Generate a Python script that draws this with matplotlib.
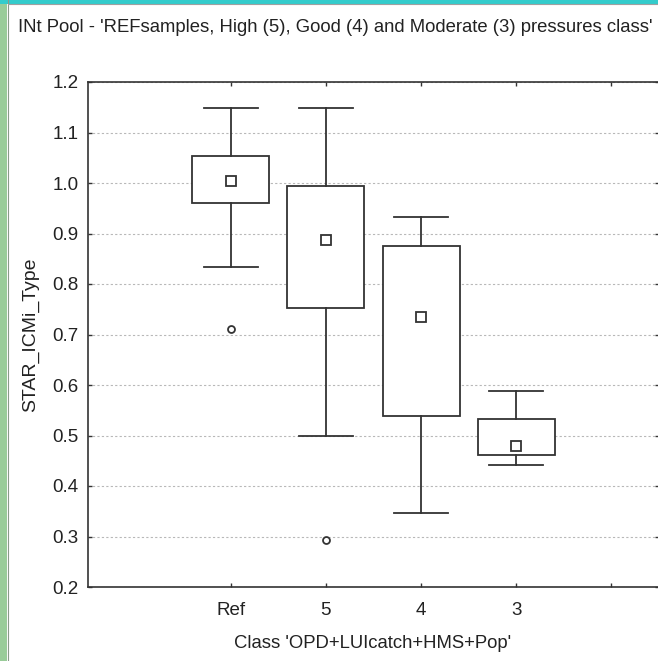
import matplotlib
matplotlib.use("Agg")
import matplotlib.pyplot as plt
from matplotlib.patches import Rectangle
from matplotlib.lines import Line2D

# values
categories = ["Ref", "5", "4", "3"]
means = [1.004, 0.888, 0.735, 0.479]
box_low = [0.960, 0.753, 0.539, 0.461]
box_high = [1.053, 0.994, 0.876, 0.533]
whisk_low = [0.834, 0.499, 0.346, 0.442]
whisk_high = [1.148, 1.148, 0.933, 0.588]
outliers = [[0.710], [0.293], [], []]

plt.rcParams['font.family'] = ['Liberation Sans', 'DejaVu Sans']

fig = plt.figure(figsize=(6.58, 6.61), dpi=100)
fig.patch.set_facecolor('white')

# window frame bits (green strip left, cyan bar on top)
fig.add_artist(Rectangle((0, 0), 7 / 658, 1, transform=fig.transFigure,
                         facecolor='#99cc99', edgecolor='none', zorder=0))
fig.add_artist(Line2D([7.5 / 658, 7.5 / 658], [0, 1], transform=fig.transFigure,
                      color='#8a9a8a', lw=0.8))
fig.add_artist(Rectangle((0, 1 - 3.5 / 661), 1, 3.5 / 661, transform=fig.transFigure,
                         facecolor='#33cccc', edgecolor='none', zorder=1))
fig.add_artist(Line2D([7.5 / 658, 1], [1 - 4 / 661, 1 - 4 / 661], transform=fig.transFigure,
                      color='#a0a0a0', lw=0.8))

ax = fig.add_axes([88 / 658, 74 / 661, 571 / 658, 505 / 661])

stats = []
for i in range(len(categories)):
    stats.append({'med': means[i], 'mean': means[i], 'q1': box_low[i], 'q3': box_high[i],
                  'whislo': whisk_low[i], 'whishi': whisk_high[i], 'fliers': outliers[i]})

lc = '#333333'
ax.bxp(stats, positions=range(len(categories)), widths=0.81, capwidths=0.57,
       showmeans=True, patch_artist=True,
       boxprops=dict(facecolor='white', edgecolor=lc, linewidth=1.3),
       whiskerprops=dict(color=lc, linewidth=1.3),
       capprops=dict(color=lc, linewidth=1.3),
       medianprops=dict(linewidth=0),
       meanprops=dict(marker='s', markersize=6.5, markerfacecolor='white',
                      markeredgecolor=lc, markeredgewidth=1.3),
       flierprops=dict(marker='o', markersize=5, markerfacecolor='white',
                       markeredgecolor=lc, markeredgewidth=1.3))

ax.set_xlim(-1.5, 4.5)
ax.set_ylim(0.2, 1.2)
ax.set_yticks([0.2, 0.3, 0.4, 0.5, 0.6, 0.7, 0.8, 0.9, 1.0, 1.1, 1.2])
ax.set_yticklabels(['0.2', '0.3', '0.4', '0.5', '0.6', '0.7', '0.8', '0.9', '1.0', '1.1', '1.2'])
ax.set_xticks([0, 1, 2, 3, 4])
ax.set_xticklabels(categories + [''])

ax.grid(axis='y', color='#b8b8b8', linestyle=(0, (2, 2)), linewidth=0.8)
ax.set_axisbelow(True)

for s in ax.spines.values():
    s.set_color('#333333')
    s.set_linewidth(1.2)

ax.tick_params(direction='in', length=3, width=1, colors='#333333',
               top=True, right=True, labelsize=13.5, labelcolor='#222222')
ax.tick_params(axis='x', pad=10.5)
ax.tick_params(axis='y', pad=7)

ax.set_ylabel('STAR_ICMi_Type', fontsize=14, color='#222222')
ax.yaxis.set_label_coords(-0.085, 0.5)

fig.text(373 / 658, 1 - 644 / 661, "Class 'OPD+LUIcatch+HMS+Pop'", fontsize=13.3,
         color='#222222', ha='center', va='center')
fig.text(18 / 658, 1 - 27 / 661,
         "INt Pool - 'REFsamples, High (5), Good (4) and Moderate (3) pressures class'",
         fontsize=13.3, color='#222222', ha='left', va='center')

fig.savefig('out.png', dpi=100)
